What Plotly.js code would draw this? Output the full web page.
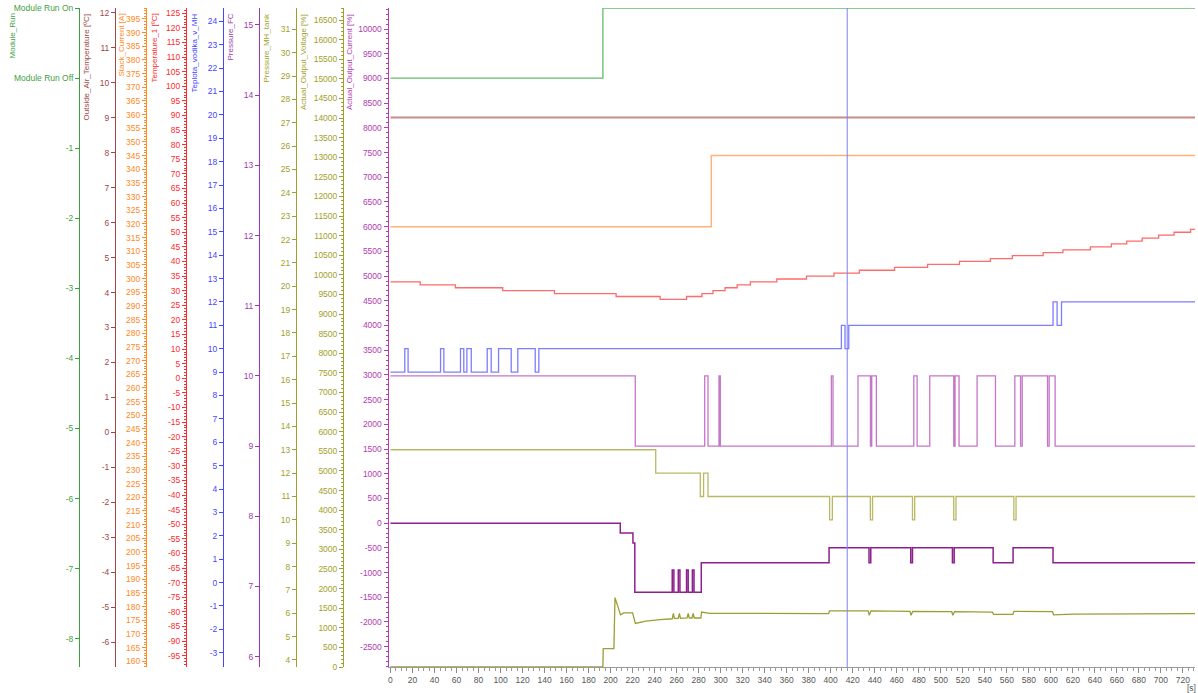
<!DOCTYPE html>
<html>
<head>
<meta charset="utf-8">
<script src="https://cdn.plot.ly/plotly-3.0.1.min.js"></script>
<style>
  html, body { margin: 0; padding: 0; background: #fff; }
  #chart { width: 1198px; height: 693px; }
</style>
</head>
<body>
<div id="chart"></div>
<script>
// ---- recorded signals (time in s, values in channel units) ----
const moduleRunT = [0, 193, 731];
const moduleRunV = [0, 1, 1];

const airTempT = [0, 731];
const airTempV = [9, 9];

const stackCurrentT = [0, 291.5, 731];
const stackCurrentV = [319, 345, 345];

const temp1T = [0, 27, 59, 102, 149, 205, 245, 269, 283, 293, 304, 315, 327, 351, 378, 403, 426, 458, 488, 517, 545, 565, 593, 611, 636, 655, 669, 683, 698, 712, 727, 731];
const temp1V = [33, 32, 31, 30, 29, 28, 27, 28, 29, 30, 31, 32, 33, 34, 35, 36, 37, 38, 39, 40, 41, 42, 43, 44, 45, 46, 47, 48, 49, 50, 51, 51];

const h2TempT = [0, 13, 16, 45.5, 48.5, 63.6, 66.6, 69.4, 73.4, 87.9, 91.5, 98.2, 109.7, 115.7, 131.5, 134.8, 409.7, 413, 416.4, 602, 605.7, 609.7, 731];
const h2TempV = [9, 10, 9, 10, 9, 10, 9, 10, 9, 10, 9, 10, 9, 10, 9, 10, 11, 10, 11, 12, 11, 12, 12];

const pressFcT = [0, 222.4, 285.5, 288.5, 298.5, 299.7, 400.6, 402.1, 424.8, 436.1, 437.3, 441.5, 475.5, 478.5, 490, 511.8, 513, 516.6, 533, 549.7, 567.3, 572.5, 574, 597, 598.5, 603.9, 731];
const pressFcV = [10, 9, 10, 9, 10, 9, 10, 9, 10, 9, 10, 9, 10, 9, 10, 9, 10, 9, 10, 9, 10, 9, 10, 9, 10, 9, 9];

const pressTankT = [0, 241, 281.5, 284.5, 288.5, 399, 401.5, 436, 438, 474.3, 476.3, 511.8, 513.8, 566.4, 568.4, 731];
const pressTankV = [13, 12, 11, 12, 11, 10, 11, 10, 11, 10, 11, 10, 11, 10, 11, 11];

const voltT = [0, 193, 193.3, 203, 204, 206, 209, 212, 220, 222.5, 232, 245, 256, 257, 258, 261.5, 262.5, 263.5, 269.5, 270.5, 271.5, 274, 275, 276, 282, 282.7, 290, 398, 399, 434, 435, 436.5, 472, 473, 474.5, 510, 511, 512.5, 547, 548, 565.5, 566.5, 601.5, 602.5, 620, 731];
const voltV = [0, 0, 470, 470, 1770, 1600, 1330, 1380, 1380, 1110, 1170, 1210, 1230, 1370, 1240, 1240, 1370, 1240, 1250, 1370, 1250, 1250, 1370, 1250, 1250, 1400, 1370, 1360, 1430, 1430, 1320, 1430, 1420, 1320, 1420, 1410, 1320, 1410, 1400, 1340, 1340, 1420, 1410, 1330, 1350, 1360];

const currT = [0, 208.8, 220.3, 222, 256, 257.5, 261.5, 263, 269, 270.5, 274.3, 275.8, 282.4, 398.5, 434.8, 436.4, 472.7, 474.3, 510.6, 512.2, 547.6, 565.7, 602, 731];
const currV = [0, -200, -400, -1400, -950, -1400, -950, -1400, -950, -1400, -950, -1400, -800, -500, -800, -500, -800, -500, -800, -500, -800, -500, -800, -800];

const cursorT = 415;

const runTickVals = [1, 0, -1, -2, -3, -4, -5, -6, -7, -8];
const runTickText = ['Module Run On', 'Module Run Off', '-1', '-2', '-3', '-4', '-5', '-6', '-7', '-8'];

// ---- layout geometry ----
const PAPER_W = 1195;            // plot paper width in px (left margin 0)
const px = p => p / PAPER_W;      // pixel column -> paper fraction
const FONT = 'Liberation Sans, Arial, sans-serif';
const TICK_SIZE = 8.5;
const TITLE_SIZE = 8;

// evenly spaced tick labels written with a plain hyphen for negatives
function tickSet(from, to, step) {
  const vals = [], text = [];
  for (let v = from; v <= to + 1e-9; v += step) {
    const r = Math.round(v * 1000) / 1000;
    vals.push(r);
    text.push(String(r));
  }
  return { tickmode: 'array', tickvals: vals, ticktext: text };
}

const C = {
  run:   { axis: '#3f9f3f', line: '#66bb66' },
  air:   { axis: '#a04848', line: '#c98a8a' },
  stack: { axis: '#ff8a1e', line: '#ffb27a' },
  t1:    { axis: '#ff2b2b', line: '#ff6a6a' },
  h2:    { axis: '#4646ff', line: '#7d7dff' },
  fc:    { axis: '#9c3aae', line: '#c576c8' },
  tank:  { axis: '#9f9f2a', line: '#b9b965' },
  volt:  { axis: '#9f9f2a', line: '#9d9d36' },
  curr:  { axis: '#b23cb2', line: '#8e1f8e' }
};

function yax(color, range, extra) {
  return Object.assign({
    range: range,
    showgrid: false,
    zeroline: false,
    showline: true,
    linecolor: color,
    linewidth: 1,
    ticks: 'outside',
    ticklen: 4,
    tickwidth: 1,
    tickcolor: color,
    tickfont: { family: FONT, size: TICK_SIZE, color: color },
    fixedrange: true
  }, extra || {});
}

function freeAx(color, range, posPx, extra) {
  return yax(color, range, Object.assign({
    overlaying: 'y', anchor: 'free', side: 'left', position: px(posPx)
  }, extra || {}));
}

function minorTicks(dtick, color) {
  return { minor: { dtick: dtick, ticklen: 2, tickcolor: color, ticks: 'outside' } };
}

const layout = {
  width: 1198,
  height: 693,
  margin: { l: 0, r: 3, t: 8, b: 26 },
  paper_bgcolor: '#ffffff',
  plot_bgcolor: '#ffffff',
  showlegend: false,
  font: { family: FONT, size: TICK_SIZE },
  xaxis: Object.assign({
    domain: [px(388.5), 1],
    range: [-1.8, 731],
    showgrid: false,
    zeroline: false,
    showline: true,
    linecolor: '#9a9a9a',
    ticks: 'outside',
    ticklen: 5,
    tickcolor: '#8a8a8a',
    tickfont: { family: FONT, size: TICK_SIZE, color: '#555555' },
    minor: { dtick: 5, ticklen: 3, tickcolor: '#9a9a9a', ticks: 'outside' },
    fixedrange: true
  }, tickSet(0, 720, 20)),
  // Actual_Output_Current [%] sits against the plot area
  yaxis: yax(C.curr.axis, [-2911, 10425],
    Object.assign(tickSet(-2500, 10000, 500), minorTicks(100, C.curr.axis))),
  // Module_Run
  yaxis2: freeAx(C.run.axis, [-8.404, 1.0], 79, {
    tickmode: 'array', tickvals: runTickVals, ticktext: runTickText
  }),
  // Outside_Air_Temperature
  yaxis3: freeAx(C.air.axis, [-6.706, 12.134], 115, tickSet(-6, 12, 1)),
  // Stack_Current
  yaxis4: freeAx(C.stack.axis, [157.9, 399.0], 146,
    Object.assign(tickSet(160, 395, 5), minorTicks(1, C.stack.axis))),
  // Temperature_1
  yaxis5: freeAx(C.t1.axis, [-98.87, 126.8], 186,
    Object.assign(tickSet(-95, 125, 5), minorTicks(1, C.t1.axis))),
  // Teplota_vodika_v_MH
  yaxis6: freeAx(C.h2.axis, [-3.611, 24.569], 223, tickSet(-3, 24, 1)),
  // Pressure_FC
  yaxis7: freeAx(C.fc.axis, [5.853, 15.242], 259, tickSet(6, 15, 1)),
  // Pressure_MH_tank
  yaxis8: freeAx(C.tank.axis, [3.70, 31.912], 296, tickSet(4, 31, 1)),
  // Actual_Output_Voltage
  yaxis9: freeAx(C.volt.axis, [0, 16806], 343,
    Object.assign(tickSet(0, 16500, 500), minorTicks(100, C.volt.axis))),
  shapes: [{
    type: 'line', xref: 'x', yref: 'paper',
    x0: cursorT, x1: cursorT, y0: 0, y1: 1,
    line: { color: '#7f7fff', width: 1 }
  }],
  annotations: []
};

// vertical axis titles, text running upward from the top of each axis
const titles = [
  { text: 'Module_Run', x: 12, color: C.run.axis },
  { text: 'Outside_Air_Temperature [ºC]', x: 86, color: C.air.axis },
  { text: 'Stack_Current [A]', x: 121, color: C.stack.axis },
  { text: 'Temperature_1 [ºC]', x: 154, color: C.t1.axis },
  { text: 'Teplota_vodika_v_MH', x: 194, color: C.h2.axis },
  { text: 'Pressure_FC', x: 230, color: C.fc.axis },
  { text: 'Pressure_MH_tank', x: 266, color: C.tank.axis },
  { text: 'Actual_Output_Voltage [%]', x: 303, color: C.volt.axis },
  { text: 'Actual_Output_Current [%]', x: 349, color: C.curr.axis }
];
titles.forEach(t => {
  layout.annotations.push({
    xref: 'paper', yref: 'paper',
    x: px(t.x), y: 1 - 4 / 659,
    xanchor: 'center', yanchor: 'top',
    textangle: -90,
    showarrow: false,
    text: t.text,
    font: { family: FONT, size: TITLE_SIZE, color: t.color }
  });
});
layout.annotations.push({
  xref: 'paper', yref: 'paper',
  x: px(1191), y: -21 / 659,
  xanchor: 'center', yanchor: 'middle',
  showarrow: false, text: '[s]',
  font: { family: FONT, size: 8.5, color: '#555555' }
});

function step(x, y, yaxis, color, width) {
  return {
    type: 'scatter', mode: 'lines', x: x, y: y, yaxis: yaxis,
    line: { color: color, width: width || 1.3, shape: 'hv' },
    hoverinfo: 'skip'
  };
}

const data = [
  step(moduleRunT, moduleRunV, 'y2', C.run.line),
  step(airTempT, airTempV, 'y3', C.air.line, 2),
  step(stackCurrentT, stackCurrentV, 'y4', C.stack.line, 1.5),
  step(temp1T, temp1V, 'y5', C.t1.line),
  step(h2TempT, h2TempV, 'y6', C.h2.line),
  step(pressFcT, pressFcV, 'y7', C.fc.line),
  step(pressTankT, pressTankV, 'y8', C.tank.line),
  {
    type: 'scatter', mode: 'lines', x: voltT, y: voltV, yaxis: 'y9',
    line: { color: C.volt.line, width: 1.3 }, hoverinfo: 'skip'
  },
  step(currT, currV, 'y', C.curr.line, 1.5)
];

Plotly.newPlot('chart', data, layout, { staticPlot: true, displayModeBar: false });
</script>
</body>
</html>
